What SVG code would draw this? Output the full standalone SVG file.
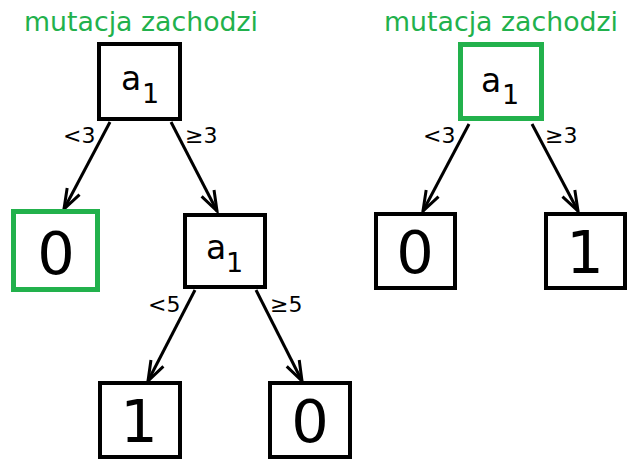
<svg xmlns="http://www.w3.org/2000/svg" width="638" height="466" viewBox="0 0 638 466">
  <style>
    .box { fill: #fff; stroke: #000; stroke-width: 4; }
    .gbox { fill: #fff; stroke: #22b14c; stroke-width: 5; }
    .title { font-family: "DejaVu Sans", Verdana, sans-serif; font-size: 27px; fill: #22b14c; }
    .var { font-family: "DejaVu Sans", Verdana, sans-serif; font-size: 33px; fill: #000; }
    .sub { font-size: 27px; }
    .leaf { font-family: "DejaVu Sans", Verdana, sans-serif; font-size: 59px; fill: #000; text-anchor: middle; }
    .lbl { font-family: "DejaVu Sans", Verdana, sans-serif; font-size: 22px; fill: #000; }
    .edge { stroke: #000; stroke-width: 3; fill: none; marker-end: url(#arr); }
  </style>
  <defs>
    <marker id="arr" markerUnits="userSpaceOnUse" markerWidth="28" markerHeight="24" viewBox="-24 -10 28 20" refX="0" refY="0" orient="auto">
      <path d="M-20,-7 L0,0 L-20,7" fill="none" stroke="#000" stroke-width="3"/>
    </marker>
  </defs>
  <rect width="638" height="466" fill="#fff"/>

  <g id="titles">
    <text class="title" x="24" y="31" textLength="234" lengthAdjust="spacingAndGlyphs">mutacja zachodzi</text>
    <text class="title" x="384" y="31" textLength="234" lengthAdjust="spacingAndGlyphs">mutacja zachodzi</text>
  </g>

  <g id="connectors">
    <line class="edge" x1="110" y1="122" x2="64" y2="209"/>
    <line class="edge" x1="171" y1="122" x2="217" y2="211"/>
    <line class="edge" x1="195" y1="290" x2="148" y2="381"/>
    <line class="edge" x1="256" y1="290" x2="302" y2="381"/>
    <line class="edge" x1="469" y1="124" x2="423" y2="211"/>
    <line class="edge" x1="532" y1="124" x2="578" y2="211"/>
    <text class="lbl" x="63" y="143">&lt;3</text>
    <text class="lbl" x="185" y="143">≥3</text>
    <text class="lbl" x="148" y="312">&lt;5</text>
    <text class="lbl" x="270" y="312">≥5</text>
    <text class="lbl" x="423" y="143">&lt;3</text>
    <text class="lbl" x="545" y="143">≥3</text>
  </g>

  <g id="left-root">
    <rect class="box" x="99" y="44" width="81" height="75"/>
    <text class="var" x="121" y="90">a<tspan class="sub" x="142" y="103">1</tspan></text>
  </g>
  <g id="left-leaf0">
    <rect class="gbox" x="13.5" y="211.5" width="84" height="78"/>
    <text class="leaf" x="56" y="274">0</text>
  </g>
  <g id="left-a1">
    <rect class="box" x="185" y="215" width="80" height="72"/>
    <text class="var" x="206" y="259">a<tspan class="sub" x="226" y="272">1</tspan></text>
  </g>
  <g id="left-leaf1">
    <rect class="box" x="100" y="383" width="80" height="74"/>
    <text class="leaf" x="139" y="442">1</text>
  </g>
  <g id="left-leaf0b">
    <rect class="box" x="270" y="383" width="80" height="74"/>
    <text class="leaf" x="310" y="442">0</text>
  </g>

  <g id="right-root">
    <rect class="gbox" x="460.5" y="44.5" width="81" height="74"/>
    <text class="var" x="481" y="92">a<tspan class="sub" x="502" y="104">1</tspan></text>
  </g>
  <g id="right-leaf0">
    <rect class="box" x="376" y="214" width="79" height="74"/>
    <text class="leaf" x="415" y="273">0</text>
  </g>
  <g id="right-leaf1">
    <rect class="box" x="546" y="214" width="79" height="74"/>
    <text class="leaf" x="585" y="273">1</text>
  </g>
</svg>
